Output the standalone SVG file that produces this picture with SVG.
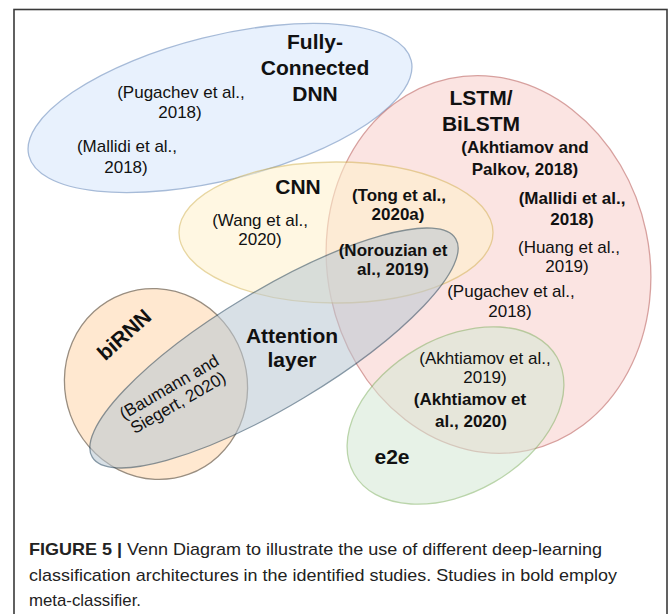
<svg xmlns="http://www.w3.org/2000/svg" width="670" height="614" viewBox="0 0 670 614">
<style>
.shape{stroke-width:1.3}
.t{font-family:"Liberation Sans",Arial,sans-serif;fill:#111;text-anchor:middle}
.b{font-weight:bold}
.lab{font-size:21px}
.cit{font-size:17px}
.cap{font-family:"Liberation Sans",Arial,sans-serif;font-size:17px;fill:#222}
</style>
<rect x="14" y="9.5" width="653" height="620" fill="#fff" stroke="#3a3a3a" stroke-width="1.6"/>
<g id="fc-dnn" opacity="0.6">
  <ellipse class="shape" cx="220" cy="108" rx="197" ry="72" transform="rotate(-14 220 108)" fill="#dae8fc" stroke="#6c8ebf"/>
</g>
<g id="lstm" opacity="0.55">
  <ellipse class="shape" cx="488.5" cy="264.5" rx="161" ry="190" transform="rotate(-12 488.5 264.5)" fill="#f8cecc" stroke="#b85450"/>
</g>
<g id="cnn" opacity="0.55">
  <ellipse class="shape" cx="336" cy="232.5" rx="157" ry="70.5" fill="#fff2cc" stroke="#d6b656"/>
</g>
<g id="birnn" opacity="0.9">
  <ellipse class="shape" cx="156" cy="384" rx="91" ry="96" transform="rotate(-20 156 384)" fill="#ffe6cc" stroke="#8f8273"/>
</g>
<g id="attention" opacity="0.55">
  <ellipse class="shape" cx="274" cy="348" rx="212" ry="58" transform="rotate(-31 274 348)" fill="#bac8d3" stroke="#23445d"/>
</g>
<g id="e2e" opacity="0.55">
  <ellipse class="shape" cx="455.5" cy="415.5" rx="117" ry="77" transform="rotate(-30 455.5 415.5)" fill="#d5e8d4" stroke="#82b366"/>
</g>
<g id="connectors"/>
<g id="labels">
  <text class="t b lab" x="315" y="49">Fully-</text>
  <text class="t b lab" x="315" y="75">Connected</text>
  <text class="t b lab" x="315" y="101">DNN</text>
  <text class="t cit" x="181" y="98">(Pugachev et al.,</text>
  <text class="t cit" x="180" y="118">2018)</text>
  <text class="t cit" x="127" y="152">(Mallidi et al.,</text>
  <text class="t cit" x="126" y="173">2018)</text>
  <text class="t b lab" x="481" y="105">LSTM/</text>
  <text class="t b lab" x="481" y="131">BiLSTM</text>
  <text class="t b cit" x="525" y="153">(Akhtiamov and</text>
  <text class="t b cit" x="525" y="175">Palkov, 2018)</text>
  <text class="t b lab" x="298" y="194">CNN</text>
  <text class="t b cit" x="399" y="201">(Tong et al.,</text>
  <text class="t b cit" x="398" y="220">2020a)</text>
  <text class="t b cit" x="572" y="204">(Mallidi et al.,</text>
  <text class="t b cit" x="572" y="225">2018)</text>
  <text class="t cit" x="260" y="226">(Wang et al.,</text>
  <text class="t cit" x="260" y="245">2020)</text>
  <text class="t b cit" x="393" y="256">(Norouzian et</text>
  <text class="t b cit" x="393" y="275">al., 2019)</text>
  <text class="t cit" x="569" y="253">(Huang et al.,</text>
  <text class="t cit" x="567" y="272">2019)</text>
  <text class="t cit" x="511" y="297">(Pugachev et al.,</text>
  <text class="t cit" x="510" y="317">2018)</text>
  <text class="t b lab" x="292" y="343">Attention</text>
  <text class="t b lab" x="292" y="367">layer</text>
  <text class="t cit" x="485" y="364">(Akhtiamov et al.,</text>
  <text class="t cit" x="485" y="383">2019)</text>
  <text class="t b cit" x="470" y="405">(Akhtiamov et</text>
  <text class="t b cit" x="471" y="427">al., 2020)</text>
  <text class="t b lab" x="392" y="464">e2e</text>
  <text class="t b lab" transform="translate(129 340) rotate(-42)" x="0" y="0">biRNN</text>
  <g transform="translate(172 392) rotate(-30)">
    <text class="t cit" x="0" y="0">(Baumann and</text>
    <text class="t cit" x="0" y="18">Siegert, 2020)</text>
  </g>
</g>
<g id="caption">
  <text class="cap" x="29" y="555" textLength="573" lengthAdjust="spacingAndGlyphs"><tspan font-weight="bold">FIGURE 5 | </tspan>Venn Diagram to illustrate the use of different deep-learning</text>
  <text class="cap" x="29" y="581" textLength="588" lengthAdjust="spacingAndGlyphs">classification architectures in the identified studies. Studies in bold employ</text>
  <text class="cap" x="29" y="606" textLength="112" lengthAdjust="spacingAndGlyphs">meta-classifier.</text>
</g>
</svg>
